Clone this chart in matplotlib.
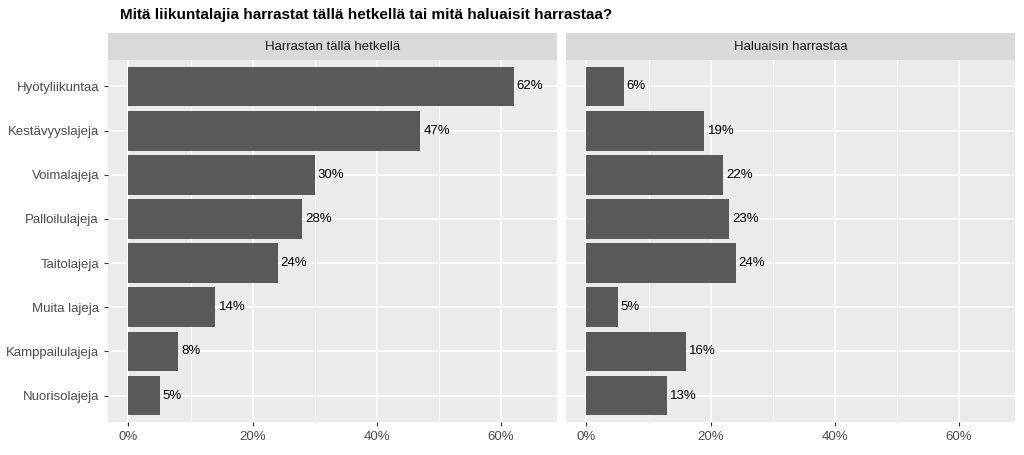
import matplotlib
matplotlib.use("Agg")
import matplotlib.pyplot as plt
from matplotlib.ticker import MultipleLocator

plt.rcParams["font.family"] = "Liberation Sans"

categories = ["Hyötyliikuntaa", "Kestävyyslajeja", "Voimalajeja", "Palloilulajeja",
              "Taitolajeja", "Muita lajeja", "Kamppailulajeja", "Nuorisolajeja"]
now_vals = [62, 47, 30, 28, 24, 14, 8, 5]
want_vals = [6, 19, 22, 23, 24, 5, 16, 13]
panel_titles = ["Harrastan tällä hetkellä", "Haluaisin harrastaa"]
title = "Mitä liikuntalajia harrastat tällä hetkellä tai mitä haluaisit harrastaa?"
xticks = [0, 20, 40, 60]

fig = plt.figure(figsize=(10.24, 4.55), dpi=100)
fig.text(120 / 1024, 1 - 15 / 455, title, fontsize=11, fontweight="bold", va="center")

lefts = [108 / 1024, 566 / 1024]
w = 449 / 1024
bottom, top = 1 - 422 / 455, 1 - 60 / 455
strip_h = 27 / 455
ypos = list(range(len(categories)))[::-1]

for i, (vals, ptitle) in enumerate(zip([now_vals, want_vals], panel_titles)):
    ax = fig.add_axes([lefts[i], bottom, w, top - bottom])
    ax.set_facecolor("#EBEBEB")
    ax.barh(ypos, vals, height=0.9, color="#595959", zorder=3)
    for y, v in zip(ypos, vals):
        ax.text(v + 0.5, y, f"{v}%", va="center", ha="left", fontsize=9.5, zorder=4)
    ax.set_xlim(-3.3, 69)
    ax.set_ylim(-0.6, len(categories) - 0.4)
    ax.set_xticks(xticks)
    ax.set_xticklabels([f"{t}%" for t in xticks])
    ax.xaxis.set_minor_locator(MultipleLocator(10))
    ax.set_yticks(ypos)
    if i == 0:
        ax.set_yticklabels(categories)
    else:
        ax.set_yticklabels([])
    ax.grid(which="major", color="white", lw=1.1, zorder=0)
    ax.grid(which="minor", axis="x", color="white", lw=0.5, zorder=0)
    ax.tick_params(which="major", length=3, color="#333333", labelcolor="#4D4D4D", labelsize=9.5)
    ax.tick_params(which="minor", length=0)
    if i == 1:
        ax.tick_params(axis="y", length=0)
    for s in ax.spines.values():
        s.set_visible(False)
    sax = fig.add_axes([lefts[i], top, w, strip_h])
    sax.set_facecolor("#D9D9D9")
    sax.set_xticks([])
    sax.set_yticks([])
    for s in sax.spines.values():
        s.set_visible(False)
    sax.text(0.5, 0.5, ptitle, ha="center", va="center", fontsize=9.5, color="#1A1A1A",
             transform=sax.transAxes)

fig.savefig("out.png", dpi=100)
